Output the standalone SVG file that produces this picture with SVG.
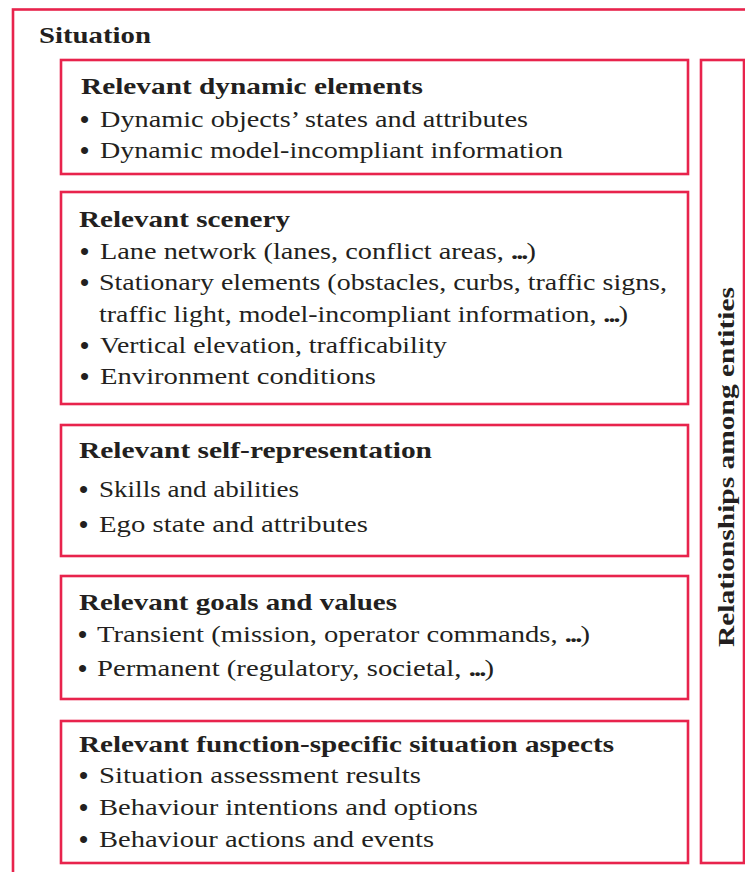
<svg xmlns="http://www.w3.org/2000/svg" width="745" height="872" viewBox="0 0 745 872">
<style>
.box{fill:none;stroke:#e8234c;stroke-width:2.6}
.h{font-family:"Liberation Serif",serif;font-weight:bold;font-size:22.5px;fill:#231f20}
.t{font-family:"Liberation Serif",serif;font-size:22.5px;fill:#231f20}
.b{font-family:"Liberation Serif",serif;font-weight:bold;font-size:26px;fill:#231f20}
.e{font-weight:bold;letter-spacing:-1.5px}
</style>
<rect width="745" height="872" fill="#ffffff"/>
<g id="situation">
<rect class="box" x="13" y="9.5" width="800" height="900"/>
<text class="h" x="39" y="43" textLength="112" lengthAdjust="spacingAndGlyphs">Situation</text>
</g>
<g id="dynamic-elements">
<rect class="box" x="61" y="60" width="627" height="114"/>
<text class="h" x="81" y="94" textLength="342" lengthAdjust="spacingAndGlyphs">Relevant dynamic elements</text>
<text class="b" x="80" y="128">•</text>
<text class="t" x="100" y="127" textLength="428" lengthAdjust="spacingAndGlyphs">Dynamic objects’ states and attributes</text>
<text class="b" x="80" y="159">•</text>
<text class="t" x="100" y="158" textLength="463" lengthAdjust="spacingAndGlyphs">Dynamic model-incompliant information</text>
</g>
<g id="scenery">
<rect class="box" x="61" y="192" width="627" height="212"/>
<text class="h" x="79" y="227" textLength="211" lengthAdjust="spacingAndGlyphs">Relevant scenery</text>
<text class="b" x="80" y="260">•</text>
<text class="t" x="100" y="259" textLength="436" lengthAdjust="spacingAndGlyphs">Lane network (lanes, conflict areas, <tspan class="e">...</tspan>)</text>
<text class="b" x="80" y="291">•</text>
<text class="t" x="99" y="290" textLength="568" lengthAdjust="spacingAndGlyphs">Stationary elements (obstacles, curbs, traffic signs,</text>
<text class="t" x="99" y="322" textLength="529" lengthAdjust="spacingAndGlyphs">traffic light, model-incompliant information, <tspan class="e">...</tspan>)</text>
<text class="b" x="80" y="354">•</text>
<text class="t" x="100" y="353" textLength="347" lengthAdjust="spacingAndGlyphs">Vertical elevation, trafficability</text>
<text class="b" x="80" y="385">•</text>
<text class="t" x="100" y="384" textLength="276" lengthAdjust="spacingAndGlyphs">Environment conditions</text>
</g>
<g id="self-representation">
<rect class="box" x="61" y="425" width="627" height="131"/>
<text class="h" x="79" y="458" textLength="353" lengthAdjust="spacingAndGlyphs">Relevant self-representation</text>
<text class="b" x="79" y="498">•</text>
<text class="t" x="99" y="497" textLength="200" lengthAdjust="spacingAndGlyphs">Skills and abilities</text>
<text class="b" x="79" y="533">•</text>
<text class="t" x="99" y="532" textLength="269" lengthAdjust="spacingAndGlyphs">Ego state and attributes</text>
</g>
<g id="goals-values">
<rect class="box" x="61" y="576" width="627" height="123"/>
<text class="h" x="79" y="610" textLength="318" lengthAdjust="spacingAndGlyphs">Relevant goals and values</text>
<text class="b" x="78" y="643">•</text>
<text class="t" x="97" y="642" textLength="493" lengthAdjust="spacingAndGlyphs">Transient (mission, operator commands, <tspan class="e">...</tspan>)</text>
<text class="b" x="78" y="677">•</text>
<text class="t" x="97" y="676" textLength="397" lengthAdjust="spacingAndGlyphs">Permanent (regulatory, societal, <tspan class="e">...</tspan>)</text>
</g>
<g id="function-specific">
<rect class="box" x="61" y="721" width="627" height="142"/>
<text class="h" x="79" y="752" textLength="535" lengthAdjust="spacingAndGlyphs">Relevant function-specific situation aspects</text>
<text class="b" x="79" y="784">•</text>
<text class="t" x="99" y="783" textLength="322" lengthAdjust="spacingAndGlyphs">Situation assessment results</text>
<text class="b" x="79" y="816">•</text>
<text class="t" x="99" y="815" textLength="379" lengthAdjust="spacingAndGlyphs">Behaviour intentions and options</text>
<text class="b" x="79" y="848">•</text>
<text class="t" x="99" y="847" textLength="335" lengthAdjust="spacingAndGlyphs">Behaviour actions and events</text>
</g>
<g id="relationships">
<rect class="box" x="701" y="60" width="43" height="803"/>
<text class="h" transform="translate(734,647) rotate(-90)" x="0" y="0" textLength="360" lengthAdjust="spacingAndGlyphs">Relationships among entities</text>
</g>
<g id="connectors"></g>
</svg>
